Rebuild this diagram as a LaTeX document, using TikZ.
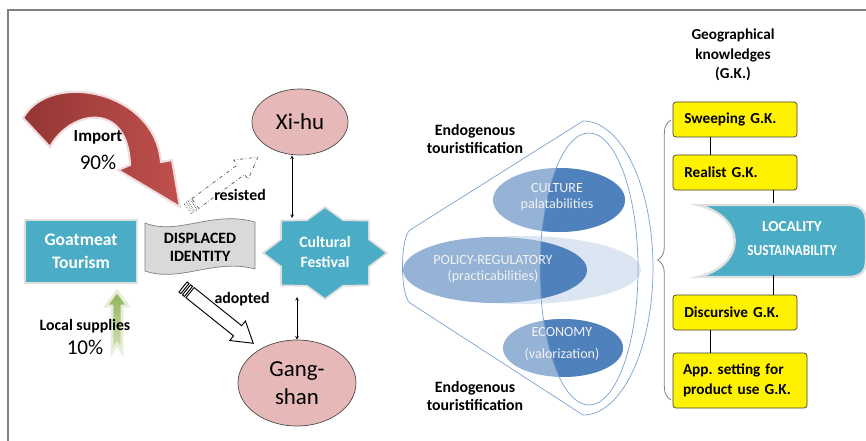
\documentclass[tikz,border=0pt]{standalone}
\usepackage{fontspec}
\setmainfont{Carlito}
\usetikzlibrary{shapes.geometric,decorations.pathreplacing}
\definecolor{tealB}{HTML}{4BACC6}
\definecolor{pinkE}{HTML}{E6B9B8}
\definecolor{grayD}{HTML}{D9D9D9}
\definecolor{redA}{HTML}{943634}
\definecolor{redB}{HTML}{C0504D}
\definecolor{redG}{HTML}{EFDCDC}
\definecolor{greenA}{HTML}{8DB255}
\definecolor{greenB}{HTML}{D7E4BD}
\definecolor{greenG}{HTML}{E6EDD8}
\definecolor{blueL}{HTML}{95B3D7}
\definecolor{blueD}{HTML}{4F81BD}
\definecolor{blueF}{HTML}{DCE6F2}
\definecolor{blueLn}{HTML}{7BA0CD}
\definecolor{frameG}{HTML}{808080}
\begin{document}
\begin{tikzpicture}[x=0.3mm,y=-0.3mm,>=stealth,
 bold/.style={font=\bfseries\fontsize{13.5}{15.5}\selectfont,align=center},
 big/.style={font=\fontsize{18}{20}\selectfont},
 tealbox/.style={fill=tealB,draw=gray!25,line width=1.5pt,text=white,inner sep=0pt,align=center},
 pinkell/.style={ellipse,fill=pinkE,draw=black!70,line width=0.6pt,inner sep=0pt,align=center,font=\fontsize{19.5}{24}\selectfont},
 ykbox/.style={rectangle,rounded corners=2.5pt,fill=yellow,draw=black!75,line width=0.6pt,minimum height=10.5mm,inner xsep=3.4mm,align=left,font=\bfseries\fontsize{13}{17}\selectfont},
 inell/.style={text=white!95!black,align=center,font=\fontsize{12}{13.5}\selectfont},
 funnel/.style={draw=blueLn,line width=0.6pt}
]
\useasboundingbox (0,0) rectangle (866,441);
% frame
\draw[frameG,line width=1.2pt] (7,10)--(866,10);
\draw[frameG,line width=1.2pt] (8,10)--(8,441);

% import arrow
\path[draw=redG,line width=1.8pt,left color=redA,right color=redB]
 (23,118) .. controls (50,70) and (155,90) .. (161,162) -- (172,160) -- (180,207)
 -- (118,170) -- (130,165) .. controls (128,100) and (70,110) .. (50,147) -- cycle;
\node[bold,font=\bfseries\fontsize{14.5}{16}\selectfont] (imp) at (98,137) {Import};
\node[big] (imppc) at (98,162) {90\%};

% resisted
\begin{scope}[shift={(188,209)},rotate=36.6]
\draw[black!65,dash dot,line width=0.6pt] (9,-6) -- (66,-6) -- (66,-12) -- (87,0) -- (66,12) -- (66,6) -- (9,6) -- cycle;
\draw[black!65,densely dotted,line width=0.6pt] (0,-6) rectangle (2.5,6) (4.5,-6) rectangle (7,6);
\end{scope}
\node[bold] (res) at (240,195) {resisted};

% adopted
\begin{scope}[shift={(183,287)},rotate=-38.7]
\draw[line width=0.8pt,fill=white] (9,-6.5) -- (70,-6.5) -- (70,-12.5) -- (90,0) -- (70,12.5) -- (70,6.5) -- (9,6.5) -- cycle;
\draw[line width=0.8pt,fill=white] (0,-6.5) rectangle (2.5,6.5) (4.5,-6.5) rectangle (7,6.5);
\end{scope}
\node[bold] (adp) at (242,299) {adopted};

% left boxes
\node[tealbox,minimum width=33.6mm,minimum height=18.9mm,font=\bfseries\fontsize{15}{19.5}\selectfont] (goat) at (81,251.5) {Goatmeat\\Tourism};
\path[fill=grayD,draw=black!50,line width=0.6pt] (145,223) .. controls (178,236) and (212,210) .. (255,222)
 -- (255,269) .. controls (215,258) and (180,283) .. (145,271) -- cycle;
\node[bold] (disp) at (200,247) {DISPLACED\\IDENTITY};

% local supplies
\path[draw=greenG,line width=2.5pt,top color=greenA,bottom color=greenB]
 (117,291) -- (128,306) -- (122,306) -- (122,352) -- (117,344) -- (112,352) -- (112,306) -- (106,306) -- cycle;
\node[bold] (loc) at (85,326) {Local supplies};
\node[big] (locpc) at (85,347) {10\%};

% festival
\path[fill=tealB,draw=gray!25,line width=1.5pt] (387,253)
 \foreach \i in {1,...,15}{ -- ({325+62*(1-0.23*mod(\i,2))*cos(22.5*\i)},{253+46*(1-0.23*mod(\i,2))*sin(22.5*\i)}) } -- cycle;
\node[bold,text=white,font=\bfseries\fontsize{13.4}{17}\selectfont] (fest) at (325,252) {Cultural\\Festival};
\coordinate (festN) at (292,218);
\coordinate (festS) at (297,297);
\node[pinkell,minimum width=28.8mm,minimum height=19.8mm] (xihu) at (300,122) {Xi-hu};
\node[pinkell,minimum width=35.4mm,minimum height=25.8mm] (gang) at (297,383) {Gang-\\shan};
\draw[<->] (xihu.south -| festN) -- (festN);
\draw[<->] (festS) -- (festS |- gang.north);

% funnel
\draw[funnel] (410,230) -- (583,121) arc[start angle=-90,end angle=90,x radius=70,y radius=147]
 -- (410,303) .. controls (400,296) and (400,237) .. (410,230) -- cycle;
\fill[blueF] (522,270) ellipse[x radius=119,y radius=34];
\fill[blueL] (559,200) ellipse[x radius=66,y radius=32];
\fill[blueL] (495,270) ellipse[x radius=92,y radius=33];
\fill[blueL] (563,348) ellipse[x radius=60,y radius=29];
\begin{scope}
\clip (589,269) ellipse[x radius=49,y radius=136];
\fill[blueD] (559,200) ellipse[x radius=66,y radius=32];
\fill[blueD] (495,270) ellipse[x radius=92,y radius=33];
\fill[blueD] (563,348) ellipse[x radius=60,y radius=29];
\end{scope}
\draw[funnel] (589,269) ellipse[x radius=49,y radius=136];
\node[inell] (cult) at (557,197) {CULTURE\\palatabilities};
\node[inell] (pol) at (493,269) {POLICY-REGULATORY\\(practicabilities)};
\node[inell,font=\fontsize{12}{19}\selectfont] (eco) at (562,344) {ECONOMY\\(valorization)};
\node[bold] (endoA) at (475,139) {Endogenous\\touristification};
\node[bold] (endoB) at (475,396) {Endogenous\\touristification};
\draw[black!50,line width=0.7pt,decorate,decoration={brace,amplitude=4mm}] (671,400) -- (671,120);

% geographical knowledges
\node[bold,font=\bfseries\fontsize{13}{16.6}\selectfont] (gk) at (733,55) {Geographical\\knowledges\\(G.K.)};
\path[fill=tealB,draw=gray!25,line width=2pt] (698,205) -- (848,205) .. controls (862,205) and (866,212) .. (866,222)
 -- (866,260) .. controls (866,270) and (862,277) .. (848,277) -- (698,277) .. controls (747,265) and (747,217) .. (698,205) -- cycle;
\node[text=white,align=center,minimum height=21.6mm,inner sep=0pt,font=\bfseries\fontsize{13}{20.5}\selectfont] (sust) at (792,239)
 {LOCALITY\\{\addfontfeature{FakeStretch=0.88}SUSTAINABILITY}};
\node[ykbox,text width=30.4mm] (sweep) at (735,119.5) {Sweeping G.K.};
\node[ykbox,text width=30.4mm] (real) at (735,172.5) {Realist G.K.};
\node[ykbox,text width=30.4mm] (disc) at (735,312.5) {Discursive G.K.};
\node[ykbox,inner xsep=3mm,text width=34.2mm,minimum height=16.5mm] (app) at (740,380.5) {App.\ setting for\\product use G.K.};
\draw ([xshift=-7.5mm]sweep.south) -- ([xshift=-7.5mm]real.north);
\draw ([xshift=11.4mm]real.south) -- ([xshift=11.4mm]real.south |- sust.north);
\draw ([xshift=11.4mm]disc.north) -- ([xshift=11.4mm]disc.north |- sust.south);
\draw ([xshift=-7.5mm]disc.south) -- ([xshift=-7.5mm]disc.south |- app.north);
\end{tikzpicture}
\end{document}
